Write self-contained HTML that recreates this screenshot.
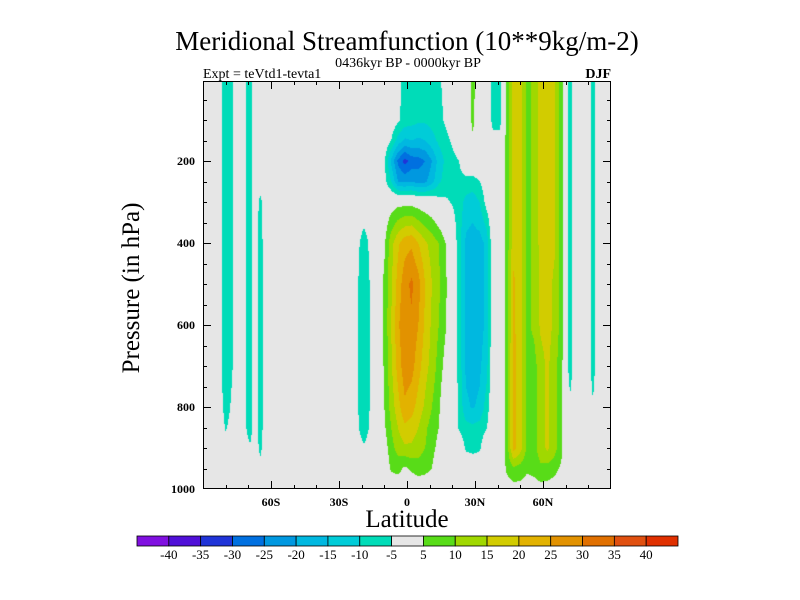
<!DOCTYPE html>
<html><head><meta charset="utf-8">
<style>
html,body{margin:0;padding:0;background:#fff;}
#wrap{position:relative;width:800px;height:600px;overflow:hidden;font-family:"Liberation Serif",serif;color:#000;}
</style></head>
<body>
<div id="wrap">
<svg id="svg" width="800" height="600" style="position:absolute;left:0;top:0">
  <text x="407" y="50" font-size="27" text-anchor="middle" font-family="Liberation Serif, serif">Meridional Streamfunction (10**9kg/m-2)</text>
  <text x="408" y="67" font-size="14" text-anchor="middle" font-family="Liberation Serif, serif">0436kyr BP - 0000kyr BP</text>
  <text x="203" y="78" font-size="14" font-family="Liberation Serif, serif">Expt = teVtd1-tevta1</text>
  <text x="611" y="78" font-size="14" text-anchor="end" font-weight="bold" font-family="Liberation Serif, serif">DJF</text>
  <text x="407" y="527" font-size="25" text-anchor="middle" font-family="Liberation Serif, serif">Latitude</text>
  <text transform="translate(139,288) rotate(-90)" font-size="25" text-anchor="middle" font-family="Liberation Serif, serif">Pressure (in hPa)</text>
  <g id="axes"></g>
  <g id="cbar"></g>
</svg>
<canvas id="cv" width="408" height="408" style="position:absolute;left:203px;top:81px"></canvas>
<svg width="800" height="600" style="position:absolute;left:0;top:0;pointer-events:none"><g id="frame"></g></svg>
</div>
<script>
// Grid latitudes (deg) and pressure levels (hPa)
const LATS = [-90,-84,-80,-73,-69.2,-67.2,-64.7,-62.5,-40,-24,-19,-14,
  -10,-7,-4,-1,2,5,8,11,14,17,
  20,23,26,29,32,35,38,41,44,47,
  50,53,56,59,62,65,68,70,72,74,
  80,82,84,90];
const PLEV = [0,100,150,200,250,300,400,500,600,700,800,850,900,950,1000];
// Streamfunction values, one row per pressure level
const ROW_0    = [0,0,-9,0,-9,0,0,0,0,0,0,0,  0,-1,-4,-6,-7,-7,-7,-7,-6,-3,  0,0,0,7,0,0,-7,-7,7,18,  17,9,11,17,17,16,8,0,-9,0,  0,-9,0,0];
const ROW_100  = [0,0,-9,0,-9,0,0,0,0,0,0,0,  0,-1,-4,-7,-8,-9,-9,-8,-7,-4,  0,0,0,6.5,0,0,-7,-7,7,18,  17,9,11,17,17,16,8,0,-9,0,  0,-9,0,0];
const ROW_150  = [0,0,-9,0,-9,0,0,0,0,0,0,0,  -1,-5,-12,-16,-15,-16,-15,-12,-9,-7,  -4,0,0,4,0,0,-3,-3,7,18,  17,9,11,17,17,16,8,0,-9,0,  0,-9,0,0];
const ROW_200  = [0,0,-9,0,-9,0,0,0,0,0,0,0,  -4,-16,-26,-32,-28,-27,-25,-20,-13,-9,  -7,-5,-2,0,0,0,0,0,7,18,  17,9,11,17,17,16,8,0,-9,0,  0,-9,0,0];
const ROW_250  = [0,0,-9,0,-9,0,-1,0,0,0,0,0,  -3,-10,-20,-21,-20,-22,-21,-17,-11,-8,  -7,-6,-6,-7,-5,-2,0,0,7,18,  17,9,11,17,17,16,8,0,-9,0,  0,-9,0,0];
const ROW_300  = [0,0,-9,0,-9,0,-7,0,0,0,0,0,  0,2,3,3,3,2,1,0,-3,-4,  -5.5,-7,-12,-13,-10,-3,0,0,7,18,  17,9,11,17,17,16,8,0,-9,0,  0,-9,0,0];
const ROW_400  = [0,0,-9,0,-9,0,-9,0,0,0,-8,0,  4,13,19,23,24,20,16,13,10,5,  0,-8,-16,-17,-17,-14,0,0,7,18,  17,9,11,17,17,16,8,0,-9,0,  0,-9,0,0];
const ROW_500  = [0,0,-9,0,-9,0,-9,0,0,0,-10,0,  6,14,22,28,31,27,20,15,11,6,  0,-8,-16,-17,-17,-14,0,0,7,21,  17,9,11,16,17,14,8,0,-9,0,  0,-9,0,0];
const ROW_600  = [0,0,-9,0,-9,0,-9,0,0,0,-10,0,  6,15,24,29,29,25,19,14,10,5.5,  0,-8,-16,-17,-17,-14,0,0,7,21,  17,9,11,16,17,14,8,0,-9,0,  0,-9,0,0];
const ROW_700  = [0,0,-9,0,-9,0,-9,0,0,0,-10,0,  5.5,14,22,28,27,22,17,13,8,3,  0,-7,-16,-17,-16,-12,0,0,7,22,  17,9,8,13,16,12,7,0,-9,0,  0,-9,0,0];
const ROW_800  = [0,0,-7,0,-9,0,-9,0,0,0,-10,0,  5,12,18,24,22,18,14,10,6,0,  0,-6,-14,-15.5,-14,-8,0,0,7,22,  17,9,8,13,16,12,7,0,-3,0,  0,-4,0,0];
const ROW_850  = [0,0,-5.5,0,-9,0,-9,0,0,0,-9,0,  4,10,15,19,18,15,11,8,5,0,  0,-6,-8,-9,-8,-5.5,0,0,7,22,  17,9,8,13,16,12,7,0,0,0,  0,-1,0,0];
const ROW_900  = [0,0,-3,0,-4,0,-7,0,0,0,-4,0,  2,8,12,14,14,12,10,7,3,0,  0,0,-6,-7,-6,0,0,0,7,22,  17,9,8,13,16,12,7,0,0,0,  0,0,0,0];
const ROW_950  = [0,0,0,0,0,0,-2,0,0,0,0,0,  0,6,7,4,6,8,7,5,0,0,  0,0,0,0,0,0,0,0,6,9,  8,6,7,9,8,7,4,0,0,0,  0,0,0,0];
const ROW_1000 = [0,0,0,0,0,0,0,0,0,0,0,0,  0,0,0,0,0,0,0,0,0,0,  0,0,0,0,0,0,0,0,2,3,  3,2,2,3,3,2,0,0,0,0,  0,0,0,0];
const GRID = [ROW_0,ROW_100,ROW_150,ROW_200,ROW_250,ROW_300,ROW_400,ROW_500,ROW_600,ROW_700,ROW_800,ROW_850,ROW_900,ROW_950,ROW_1000];
// Contour levels and colours
const LEVELS = [-40,-35,-30,-25,-20,-15,-10,-5,5,10,15,20,25,30,35,40];
const LEVEL_LABELS = ["-40","-35","-30","-25","-20","-15","-10","-5","5","10","15","20","25","30","35","40"];
const COLORS = ["#8010e0","#5010d8","#2034d8","#0070e0","#0098e0","#00b8e0","#00ccd8","#00dcb8","#e6e6e6","#58dc18","#a0d800","#d2cc00","#e2b200","#e29200","#e07000","#e05010","#e03000"];
const XTICK_VALUES = [-60,-30,0,30,60];
const XTICK_LABELS = ["60S","30S","0","30N","60N"];
const YTICK_VALUES = [200,400,600,800,1000];
const YTICK_LABELS = ["200","400","600","800","1000"];

const L=203,R=611,T=81,B=489;
const xScale = lat => L + (lat+90)/180*(R-L);
const yScale = p => 79 + p*0.41;
const invX = x => (x-L)/(R-L)*180-90;
const invY = y => (y-79)/0.41;
const NS='http://www.w3.org/2000/svg';

function idx(arr,v){ let i=0; while(i<arr.length-2 && v>arr[i+1]) i++; return i; }
function valueAt(lat,p){
  const i=idx(LATS,lat), j=idx(PLEV,p);
  const tx=Math.max(0,Math.min(1,(lat-LATS[i])/(LATS[i+1]-LATS[i])));
  const ty=Math.max(0,Math.min(1,(p-PLEV[j])/(PLEV[j+1]-PLEV[j])));
  const a=GRID[j][i],b=GRID[j][i+1],c=GRID[j+1][i],d=GRID[j+1][i+1];
  return (a*(1-tx)+b*tx)*(1-ty)+(c*(1-tx)+d*tx)*ty;
}
function colorIdx(v){ let k=0; while(k<LEVELS.length && v>=LEVELS[k]) k++; return k; }
function hex(h){return [parseInt(h.substr(1,2),16),parseInt(h.substr(3,2),16),parseInt(h.substr(5,2),16)];}
const RGB=COLORS.map(hex);

const cv=document.getElementById('cv'), ctx=cv.getContext('2d');
const img=ctx.createImageData(408,408);
for(let py=0;py<408;py++){
  const p=invY(T+py+0.5);
  for(let px=0;px<408;px++){
    const lat=invX(L+px+0.5);
    const c=RGB[colorIdx(valueAt(lat,p))];
    const o=(py*408+px)*4;
    img.data[o]=c[0];img.data[o+1]=c[1];img.data[o+2]=c[2];img.data[o+3]=255;
  }
}
ctx.putImageData(img,0,0);

function mk(tag,attrs,parent){const e=document.createElementNS(NS,tag);for(const k in attrs)e.setAttribute(k,attrs[k]);parent.appendChild(e);return e;}
const fr=document.getElementById('frame');
const border=mk('rect',{x:L+0.5,y:T+0.5,width:R-L-1,height:B-T-1,fill:'none',stroke:'#000','stroke-width':1},fr);


for(let lat=-80;lat<=80;lat+=10){
  const x=Math.round(xScale(lat))+0.5, len=(lat%30===0)?8:4;
  const t1=mk('line',{x1:x,x2:x,y1:B,y2:B-len,stroke:'#000'},fr);
  
  
  const t2=mk('line',{x1:x,x2:x,y1:T,y2:T+len,stroke:'#000'},fr);
  
  
}
for(let p=50;p<1000;p+=50){
  const y=Math.round(yScale(p))+0.5, len=(p%200===0)?8:4;
  const t1=mk('line',{x1:L,x2:L+len,y1:y,y2:y,stroke:'#000'},fr);
  
  
  const t2=mk('line',{x1:R,x2:R-len,y1:y,y2:y,stroke:'#000'},fr);
  
  
}
const ax=document.getElementById('axes');
XTICK_VALUES.forEach((v,i)=>{
  const t=mk('text',{x:xScale(v),y:B+17,'font-size':12,'font-weight':'bold','text-anchor':'middle','font-family':'Liberation Serif, serif'},ax);
  t.textContent=XTICK_LABELS[i];
  
  
});
YTICK_VALUES.forEach((v,i)=>{
  const t=mk('text',{x:L-8,y:yScale(v)+4,'font-size':12,'font-weight':'bold','text-anchor':'end','font-family':'Liberation Serif, serif'},ax);
  t.textContent=YTICK_LABELS[i];
  
  
});
// colour bar
const cb=document.getElementById('cbar');
const cbL=137, cbR=678, cbT=536, cbH=10, bw=(cbR-cbL)/COLORS.length;
COLORS.forEach((c,i)=>{
  const r=mk('rect',{x:cbL+i*bw,y:cbT,width:bw,height:cbH,fill:c,stroke:'#000','stroke-width':0.8},cb);
  
  
});
LEVEL_LABELS.forEach((s,i)=>{
  const t=mk('text',{x:cbL+(i+1)*bw,y:cbT+cbH+13,'font-size':13,'text-anchor':'middle','font-family':'Liberation Serif, serif'},cb);
  t.textContent=s;
  
  
});
</script>
</body></html>
